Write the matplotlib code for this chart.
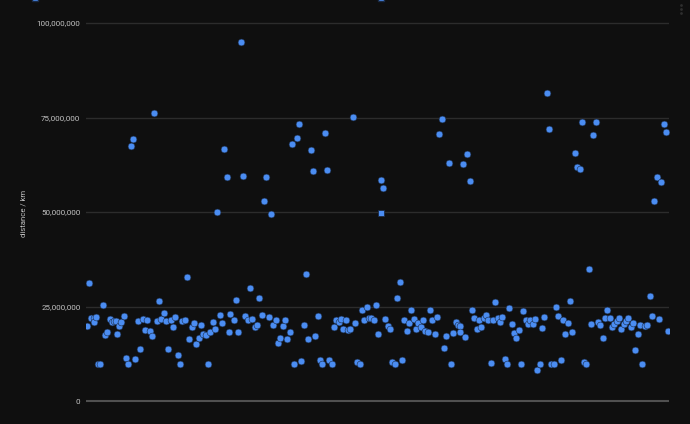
import matplotlib
matplotlib.use("Agg")
import matplotlib.pyplot as plt
from matplotlib.ticker import FuncFormatter
from matplotlib.lines import Line2D
import numpy as np

# sample position (arbitrary units along x) and distance in millions of km
sample_x = [87, 88.7, 91.3, 93.7, 93.7, 96, 97.7, 100, 102.7, 105.3, 107.3, 109.7, 112, 114, 115.7,
            116.7, 119, 121.3, 123.7, 126, 128.3, 130.7, 133.3, 135.3, 137.7, 140, 142.7, 144.7,
            147.3, 149.7, 152, 154, 156.7, 159, 161.3, 163.7, 166, 168, 170.7, 173, 175.3, 177.7,
            180, 182.3, 184.7, 187, 189.3, 191.7, 194, 196.3, 198.7, 201, 203.3, 205.7, 208, 210.3,
            212.7, 215, 217.3, 219.7, 222, 224.3, 226.7, 228.7, 230, 234, 236, 238.3, 240.7, 243,
            245.3, 247.7, 250, 252.3, 254.7, 257, 259.3, 261.7, 264, 266.3, 268.7, 271, 273.3, 275.7,
            278, 280.3, 282.7, 285, 287.3, 289.7, 292, 294.3, 296.7, 299, 301.3, 303.7, 306, 308.3,
            310.7, 313, 315.3, 317.7, 320, 322.3, 324.7, 327, 329.3, 331.7, 334, 336.3, 338.7, 341,
            343.3, 345.7, 348, 350.3, 352.7, 355, 357.3, 359.7, 362, 364.3, 366.7, 369, 371.3, 373.7,
            376, 378.3, 380.7, 383, 385.3, 387.7, 390, 392.3, 394.7, 397.3, 399.7, 402, 404.3, 406.7,
            409, 411.3, 413.7, 416, 418.3, 420.7, 423, 425.3, 427.7, 430, 432.3, 434.7, 437, 439.3,
            441.7, 444, 446.3, 448.7, 451, 453.3, 455.7, 458, 460, 460, 462.7, 465, 467.3, 469.7,
            472, 474.3, 476.7, 479, 481.3, 483.7, 486, 488.3, 490.7, 493, 495.3, 497.7, 500, 502.3,
            504.7, 507, 509.3, 511.7, 514, 516.3, 518.7, 521, 523.3, 525.7, 528, 530.3, 532.7, 535,
            537.3, 539.7, 542, 544.3, 546.7, 549, 551.3, 553.7, 556, 558.3, 560.7, 563, 565.3, 567.7,
            570, 572.3, 575, 577, 579.7, 581.7, 584, 586.3, 589, 591, 593.3, 595.7, 598, 600.3, 602.7,
            605, 607.3, 609.7, 612, 614.3, 616.7, 619, 621.3, 623.7, 626, 628.3, 630.7, 633, 635.3,
            637.7, 640, 642.3, 644.7, 647, 649.7, 652, 654.3, 656.7, 659, 661.3, 663.7, 666, 668]
distance_mkm = [19.8, 31.1, 22.0, 22.0, 20.8, 22.3, 9.7, 9.7, 25.5, 17.5, 18.2, 21.6, 20.8, 21.2, 21.2,
                17.7, 19.8, 20.8, 22.5, 11.3, 9.7, 67.5, 69.2, 11.0, 21.2, 13.8, 21.6, 18.9,
                21.4, 18.6, 17.1, 76.2, 21.2, 26.5, 21.6, 23.2, 21.2, 13.7, 21.4, 19.6, 22.3, 12.2,
                9.7, 21.1, 21.3, 32.7, 16.4, 19.7, 20.6, 15.1, 16.7, 20.1, 17.8, 17.4, 9.7, 18.2,
                20.9, 19.0, 49.9, 22.8, 20.6, 66.7, 59.3, 18.2, 23.0, 21.3, 26.8, 18.3, 95.0, 59.5,
                22.5, 21.4, 29.9, 21.7, 19.7, 20.0, 27.2, 22.7, 52.9, 59.2, 22.1, 49.5, 20.2, 21.3,
                15.3, 16.6, 19.8, 21.3, 16.4, 18.2, 68.0, 9.7, 69.7, 73.3, 10.5, 20.2, 33.7, 16.4,
                66.5, 60.9, 17.3, 22.4, 10.8, 9.7, 71.0, 61.2, 10.8, 9.7, 19.6, 21.3, 20.8, 21.7,
                19.0, 21.4, 18.7, 19.0, 75.1, 20.7, 10.4, 9.7, 24.0, 21.3, 24.9, 22.0, 21.9, 21.3,
                25.4, 17.7, 58.4, 56.4, 21.6, 19.8, 19.0, 10.4, 9.7, 27.2, 31.6, 10.8, 21.3, 18.5,
                20.6, 24.1, 21.7, 19.1, 20.6, 19.7, 21.3, 18.5, 18.2, 24.1, 21.3, 17.7, 22.1, 70.7,
                74.7, 14.1, 17.3, 63.0, 9.7, 18.1, 20.9, 20.0, 19.9, 18.3, 62.8, 17.0, 65.3, 58.1,
                24.1, 22.0, 19.0, 21.3, 19.5, 22.0, 22.8, 21.3, 10.1, 21.3, 26.1, 22.0, 20.8, 22.2,
                11.0, 9.7, 24.7, 20.4, 18.1, 16.6, 18.9, 9.7, 23.7, 21.3, 20.4, 21.3, 20.4, 21.7,
                8.2, 9.7, 19.3, 22.3, 81.5, 72.0, 9.7, 9.7, 24.9, 22.5, 10.8, 21.3, 17.8, 20.6,
                26.5, 18.3, 65.7, 61.9, 61.4, 73.8, 10.2, 9.7, 34.9, 20.4, 70.3, 73.7, 21.0, 20.2, 16.6,
                22.0, 24.0, 21.9, 19.6, 20.4, 21.1, 21.9, 19.0, 20.5, 21.1, 21.9, 19.6, 20.6, 13.5,
                17.6, 20.2, 9.7, 19.8, 20.0, 27.9, 22.6, 52.9, 59.2, 21.6, 58.0, 73.4, 71.1, 18.6]
highlight_x = [380.7]
highlight_mkm = [49.8]
y_ticks = [0, 25_000_000, 50_000_000, 75_000_000, 100_000_000]
y_label = "distance / km"

BG = "#0f0f0f"
BLUE = "#4b8df2"

fig = plt.figure(figsize=(6.9, 4.24), dpi=100, facecolor=BG)
ax = fig.add_axes([86 / 690, 0, 583 / 690, 1])
ax.set_facecolor(BG)

xs = np.array(sample_x) - 86
ys = np.array(distance_mkm) * 1e6
ax.scatter(xs, ys, s=24, color=BLUE, edgecolors="#1a2a44", linewidths=0.4, zorder=3)
ax.scatter(np.array(highlight_x) - 86, np.array(highlight_mkm) * 1e6, s=24, marker="s",
           color=BLUE, edgecolors="#1a2a44", linewidths=0.6, zorder=4)

ax.set_xlim(0, 583)
ax.set_ylim(-23 / 94.5 * 25e6, 401 / 94.5 * 25e6)
ax.set_yticks(y_ticks)
ax.yaxis.set_major_formatter(FuncFormatter(lambda v, p: f"{v:,.0f}"))
ax.set_xticks([])
ax.tick_params(axis="y", length=0, pad=4, labelsize=5.8, labelcolor="#c4c4c4")
for lab in ax.get_yticklabels():
    lab.set_family("Roboto")
for t in y_ticks:
    if t == 0:
        ax.axhline(t, color="#505050", lw=1.5, zorder=1)
    else:
        ax.axhline(t, color="#2c2c2c", lw=1.0, zorder=1)
for s in ax.spines.values():
    s.set_visible(False)

fig.text(24 / 690, 1 - 213 / 424, y_label, rotation=90, ha="center", va="center",
         fontsize=5.6, color="#c4c4c4", family="Roboto")

# partially visible legend markers at the top edge
for px in (35, 381):
    fig.add_artist(Line2D([px / 690], [1 + 1.5 / 424], marker="s", markersize=4.5,
                          color=BLUE, markeredgecolor="#1a2a44", transform=fig.transFigure,
                          clip_on=False))
# menu dots
for dy in (5, 9.3, 13.3):
    fig.add_artist(Line2D([681 / 690], [1 - dy / 424], marker="o", markersize=2.0,
                          color="#2e2e2e", markeredgewidth=0, transform=fig.transFigure))

fig.savefig("out.png", dpi=100, facecolor=BG)
